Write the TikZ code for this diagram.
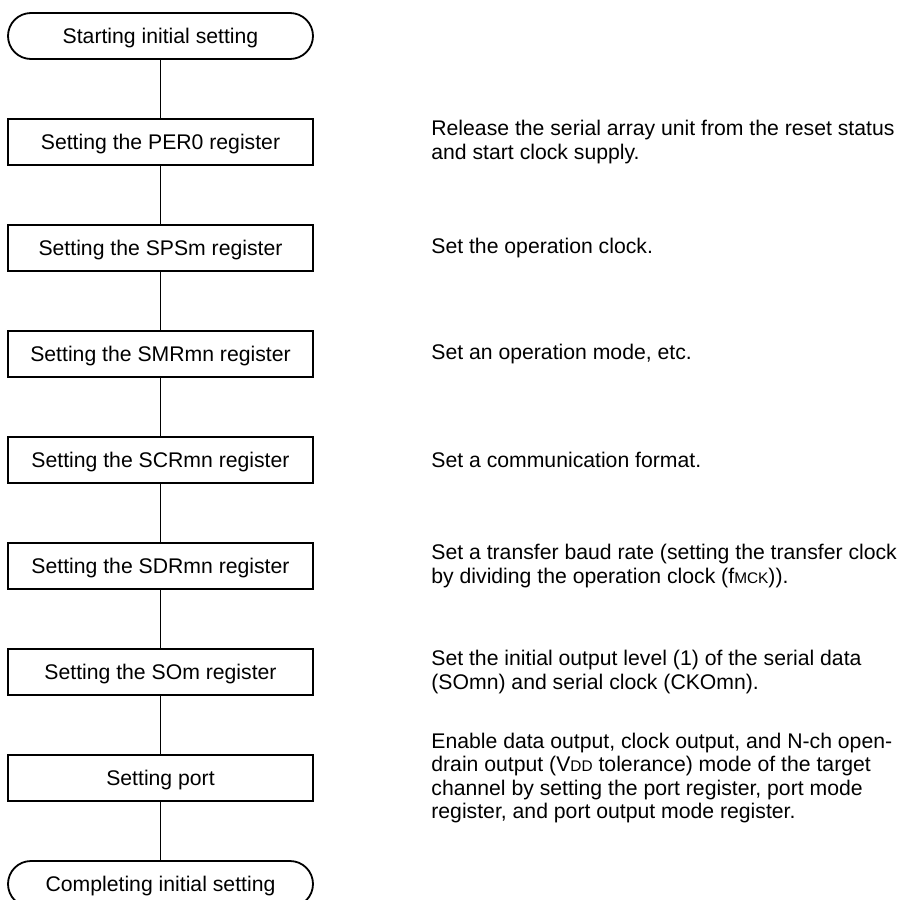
\documentclass[tikz,border=0pt]{standalone}
\usepackage{fontspec}
\setmainfont{Liberation Sans}
\usetikzlibrary{positioning}
\newcommand{\lowcaps}[1]{{\fontsize{7.7pt}{9pt}\selectfont #1}}

\begin{document}
\begin{tikzpicture}[x=0.5pt, y=-0.5pt, node distance=30pt,
  every node/.style={font=\fontsize{10.6pt}{11.8pt}\selectfont},
  stepbox/.style={rectangle, draw, line width=0.9pt, minimum width=152.5pt, minimum height=23pt, inner sep=0pt, outer sep=0pt, text height=0.72em, text depth=0pt},
  terminal/.style={stepbox, rounded corners=11.5pt},
  note/.style={align=left, inner sep=0pt, execute at begin node={\setlength{\baselineskip}{11.8pt}}},
  line/.style={draw, line width=0.8pt}]

  \useasboundingbox (0,0) rectangle (902,900);

  \node [terminal] (start) at (160.5,36) {Starting initial setting};
  \node [stepbox, below=of start] (per0) {Setting the PER0 register};
  \node [stepbox, below=of per0] (sps) {Setting the SPSm register};
  \node [stepbox, below=of sps] (smr) {Setting the SMRmn register};
  \node [stepbox, below=of smr] (scr) {Setting the SCRmn register};
  \node [stepbox, below=of scr] (sdr) {Setting the SDRmn register};
  \node [stepbox, below=of sdr] (som) {Setting the SOm register};
  \node [stepbox, below=of som] (port) {Setting port};
  \node [terminal, below=of port] (finish) {Completing initial setting};

  \node [note, right=59pt of per0] (per0note) {Release the serial array unit from the reset status\\and start clock supply.};
  \node [note, right=59pt of sps] (spsnote) {Set the operation clock.};
  \node [note, right=59pt of smr] (smrnote) {Set an operation mode, etc.};
  \node [note, right=59pt of scr] (scrnote) {Set a communication format.};
  \node [note, right=59pt of sdr] (sdrnote) {Set a transfer baud rate (setting the transfer clock\\by dividing the operation clock (f\lowcaps{MCK})).};
  \node [note, right=59pt of som] (somnote) {Set the initial output level (1) of the serial data\\(SOmn) and serial clock (CKOmn).};
  \node [note, right=59pt of port] (portnote) {Enable data output, clock output, and N-ch open-\\drain output (V\lowcaps{DD} tolerance) mode of the target\\channel by setting the port register, port mode\\register, and port output mode register.};

  \path [line] (start) -- (per0);
  \path [line] (per0) -- (sps);
  \path [line] (sps) -- (smr);
  \path [line] (smr) -- (scr);
  \path [line] (scr) -- (sdr);
  \path [line] (sdr) -- (som);
  \path [line] (som) -- (port);
  \path [line] (port) -- (finish);
\end{tikzpicture}
\end{document}
